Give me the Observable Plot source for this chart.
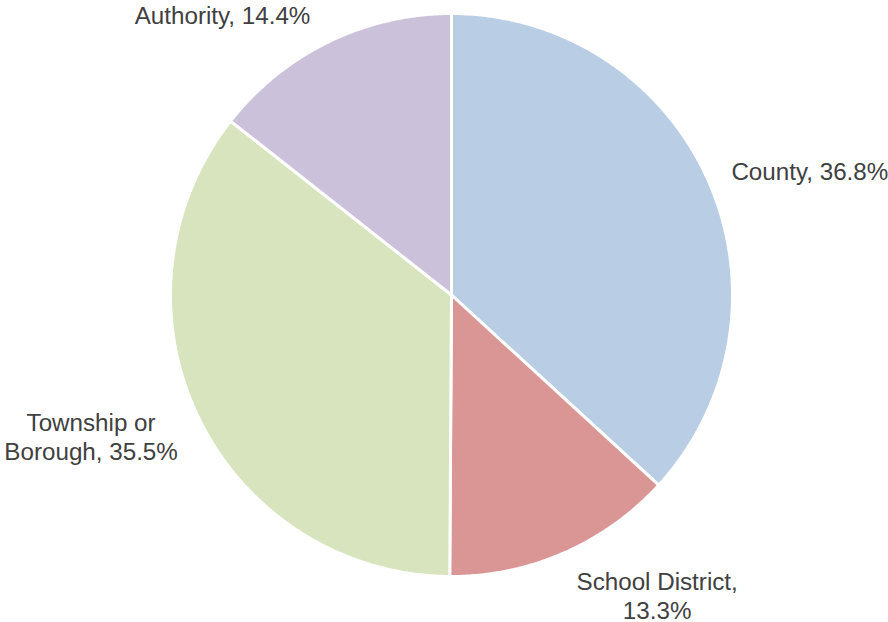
<!DOCTYPE html>
<html>
<head>
<meta charset="utf-8">
<script src="https://cdn.jsdelivr.net/npm/d3@7"></script>
<script src="https://cdn.jsdelivr.net/npm/@observablehq/plot@0.6"></script>
<style>
  html, body { margin: 0; padding: 0; background: #ffffff; }
  svg { overflow: visible; }
</style>
</head>
<body>
<div id="chart"></div>
<script>
const categories = ["County", "School District", "Township or Borough", "Authority"];
const shares = [36.8, 13.3, 35.5, 14.4];
const labels = ["County, 36.8%", "School District,\n13.3%", "Township or\nBorough, 35.5%", "Authority, 14.4%"];
const colors = ["#B9CDE5", "#D99694", "#D7E4BD", "#CCC1DA"];

// Pie angles (clockwise from 12 o'clock) via d3.pie
const arcs = d3.pie().sort(null).value(d => d)(shares);

// Polygon outlines for each slice in unit coordinates
const slicePts = [];
arcs.forEach((a, i) => {
  const name = categories[i];
  slicePts.push({name, x: 0, y: 0});
  const n = Math.max(2, Math.ceil((a.endAngle - a.startAngle) / (Math.PI / 360)));
  for (let k = 0; k <= n; k++) {
    const t = a.startAngle + (a.endAngle - a.startAngle) * k / n;
    slicePts.push({name, x: Math.sin(t), y: Math.cos(t)});
  }
  slicePts.push({name, x: 0, y: 0});
});

// Label anchors at mid-angle, slightly outside the pie
const labelPts = arcs.map((a, i) => {
  const m = (a.startAngle + a.endAngle) / 2;
  return {name: categories[i], label: labels[i], x: 1.1 * Math.sin(m), y: 1.1 * Math.cos(m)};
});

const textStyle = {fontSize: 24.2, fill: "#404040", lineHeight: 1.2, fontFamily: "'Liberation Sans', Arial, sans-serif"};

const chart = Plot.plot({
  width: 888,
  height: 622,
  margin: 0,
  style: {background: "#ffffff", fontFamily: "'Liberation Sans', Arial, sans-serif"},
  x: {domain: [-1, 1], range: [170, 732], axis: null},
  y: {domain: [-1, 1], range: [576, 13], axis: null},
  color: {domain: categories, range: colors},
  marks: [
    Plot.line(slicePts, {x: "x", y: "y", z: "name", fill: "name", stroke: "#ffffff", strokeWidth: 3, strokeLinejoin: "round", curve: "linear"}),
    Plot.text(labelPts.filter(d => d.name === "County"), {x: "x", y: "y", text: "label", textAnchor: "start", dx: -3, dy: 0, ...textStyle}),
    Plot.text(labelPts.filter(d => d.name === "School District"), {x: "x", y: "y", text: "label", textAnchor: "middle", lineAnchor: "middle", dx: 82, dy: 16, ...textStyle}),
    Plot.text(labelPts.filter(d => d.name === "Township or Borough"), {x: "x", y: "y", text: "label", textAnchor: "middle", lineAnchor: "middle", dx: -82, dy: 7, ...textStyle}),
    Plot.text(labelPts.filter(d => d.name === "Authority"), {x: "x", y: "y", text: "label", textAnchor: "end", dx: -6, dy: -2, ...textStyle})
  ]
});
document.getElementById("chart").appendChild(chart);
</script>
</body>
</html>
